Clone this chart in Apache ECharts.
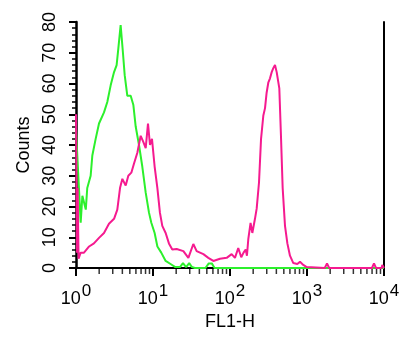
<!DOCTYPE html>
<html>
<head>
<meta charset="utf-8">
<script src="https://cdn.jsdelivr.net/npm/echarts@6/dist/echarts.min.js"></script>
<style>
  html, body { margin: 0; padding: 0; background: #fff; }
  #chart { width: 406px; height: 338px; }
</style>
</head>
<body>
<div id="chart"></div>
<script>
// FL1-H channel values and counts
const greenX = [1.0, 1.15, 1.21, 1.34, 1.40, 1.55, 1.63, 1.80, 1.99, 2.31, 2.55, 2.82, 3.12, 3.37, 3.55, 3.80, 4.07, 4.29, 4.64, 5.13, 5.56, 5.96, 6.58, 7.26, 8.04, 8.87, 9.51, 10.5, 11.4, 12.8, 14.6, 16.9, 19.5, 22.4, 24.5, 26.9, 29.5, 32, 35, 48, 53, 58, 63, 100, 1000, 10000]
const greenY = [45, 14.7, 23.5, 19, 26, 30, 36.6, 42, 47, 50.6, 54, 59.4, 63.7, 66, 71.5, 79, 70, 62.7, 56, 56, 53, 46, 40, 33, 24.5, 18, 14.7, 11.4, 7, 5, 2.3, 1.3, 0.3, 0.3, 1.6, 0.3, 1.6, 0.3, 0, 0, 1.5, 1.5, 0, 0, 0, 0]

const pinkX = [1.0, 1.03, 1.05, 1.08, 1.15, 1.27, 1.48, 1.71, 1.99, 2.31, 2.68, 3.12, 3.44, 3.73, 4.0, 4.42, 4.78, 5.23, 5.67, 6.26, 6.92, 7.48, 8.04, 8.61, 9.14, 9.70, 10.5, 11.4, 12.3, 13.2, 14.6, 16.1, 17.8, 20.3, 24.8, 28.8, 33.4, 36.9, 45.1, 52.3, 60.8, 74.1, 90.6, 105, 116, 128, 140, 150, 160, 166, 173, 185, 195, 211, 222, 238, 253, 271, 285, 299, 315, 331, 348, 365, 384, 404, 437, 459, 483, 518, 556, 601, 664, 748, 811, 895, 991, 1700, 1820, 1940, 6980, 7413, 7870, 9300, 9500, 10000]
const pinkY = [50, 5, 26, 3, 5, 5, 7, 8, 9.8, 11.4, 14.4, 16, 19, 26, 29, 26.8, 30, 31, 34, 37.5, 43, 41, 39, 47, 40, 42, 33, 26, 18, 13.7, 11.4, 8, 6, 6.2, 5.5, 3.3, 7.8, 5.5, 4.5, 3.3, 2.3, 3, 3.3, 4.5, 3.3, 6.5, 3.5, 5, 6, 4, 9.5, 14.7, 11.4, 16, 19.3, 27.8, 42, 49.6, 52, 57, 60.4, 61.7, 63.7, 65, 66, 63.7, 58.4, 43, 26, 13.7, 8, 4, 1.6, 1.3, 2, 1, 0.3, 0, 1.5, 0, 0, 1.5, 0, 0, 1, 0]

// minor tick positions on the log axis
const minorX = []
for (let d = 1; d < 10000; d *= 10) {
  for (let k = 2; k <= 9; k++) minorX.push(k * d)
}

const font = 'Liberation Sans, Arial, Helvetica, sans-serif'
const zip = (xs, ys) => xs.map((x, i) => [x, ys[i]])

const chart = echarts.init(document.getElementById('chart'))
chart.setOption({
  animation: false,
  grid: { left: 76, right: 22, top: 22, bottom: 70 },
  xAxis: [
    {
      type: 'log',
      logBase: 10,
      min: 1,
      max: 10000,
      name: 'FL1-H',
      nameLocation: 'middle',
      nameGap: 42,
      nameTextStyle: { color: '#000', fontSize: 18, fontFamily: font },
      axisLine: { lineStyle: { color: '#000', width: 2 } },
      axisTick: { length: 8, lineStyle: { color: '#000', width: 2 } },
      minorTick: { show: false },
      splitLine: { show: false },
      axisLabel: {
        margin: 15,
        formatter: v => '{b|10}{s|' + Math.round(Math.log10(v)) + '}',
        rich: {
          b: { fontSize: 18, fontFamily: font, color: '#000' },
          s: { fontSize: 17, fontFamily: font, color: '#000', padding: [0, 0, 15, 1] }
        }
      }
    },
    {
      type: 'log',
      position: 'top',
      min: 1,
      max: 10000,
      axisLine: { show: true, lineStyle: { color: '#000', width: 2 } },
      axisTick: { show: false },
      axisLabel: { show: false },
      splitLine: { show: false }
    }
  ],
  yAxis: [
    {
      type: 'value',
      min: 0,
      max: 80,
      interval: 10,
      name: 'Counts',
      nameLocation: 'middle',
      nameGap: 40,
      nameTextStyle: { color: '#000', fontSize: 18, fontFamily: font },
      axisLine: { show: true, lineStyle: { color: '#000', width: 2.5 } },
      axisTick: { length: 7, lineStyle: { color: '#000', width: 2 } },
      minorTick: { show: true, splitNumber: 5, length: 4, lineStyle: { color: '#000', width: 1.5 } },
      splitLine: { show: false },
      axisLabel: {
        rotate: 90,
        margin: 17,
        color: '#000',
        fontSize: 18,
        fontFamily: font
      }
    },
    {
      type: 'value',
      position: 'right',
      min: 0,
      max: 80,
      axisLine: { show: true, lineStyle: { color: '#000', width: 2 } },
      axisTick: { show: false },
      axisLabel: { show: false },
      splitLine: { show: false }
    }
  ],
  series: [
    {
      type: 'line',
      data: zip(greenX, greenY),
      showSymbol: false,
      lineStyle: { color: '#2cf02c', width: 2 },
      z: 3
    },
    {
      type: 'line',
      data: zip(pinkX, pinkY),
      showSymbol: false,
      lineStyle: { color: '#f51a8f', width: 2 },
      z: 4
    },
    {
      type: 'scatter',
      data: minorX.map(x => [x, 0]),
      symbol: 'rect',
      symbolSize: [1.5, 5],
      symbolOffset: [0, 3.5],
      itemStyle: { color: '#000' },
      clip: false,
      silent: true,
      z: 1
    }
  ]
})
</script>
</body>
</html>
